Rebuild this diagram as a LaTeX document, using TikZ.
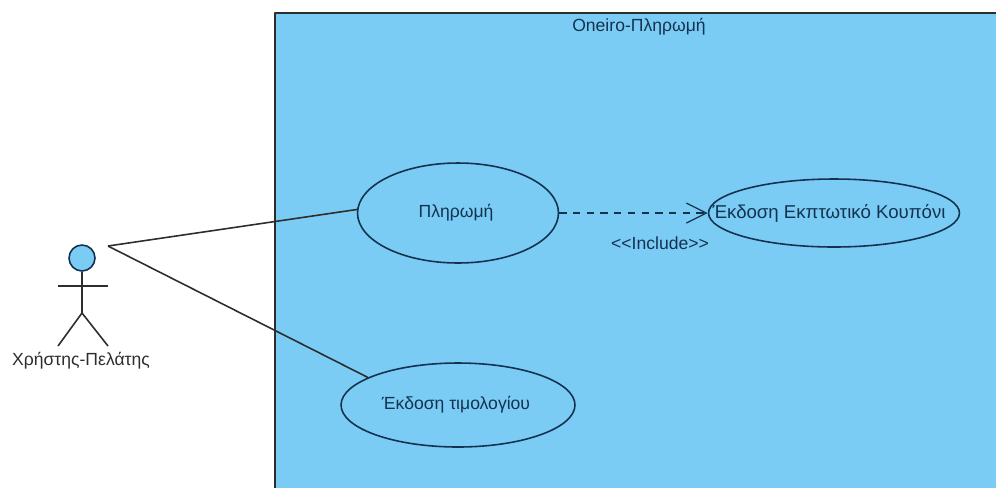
\documentclass[tikz,border=0pt]{standalone}
\usepackage{fontspec}
\setmainfont{Liberation Sans}
\usetikzlibrary{shapes.geometric, arrows.meta}
\definecolor{sysblue}{RGB}{122,204,245}
\definecolor{edgedark}{RGB}{20,50,80}
\definecolor{linegray}{RGB}{45,45,45}
\tikzset{>={Straight Barb[length=4mm,width=4mm]}}
\tikzset{usecase/.style={draw=edgedark, ellipse, line width=0.9pt, inner sep=0pt, anchor=center}}
\tikzset{caption/.style={text=edgedark, font=\fontsize{10}{12}\selectfont, inner sep=0pt, anchor=center}}
\tikzset{stick/.style={linegray, line width=0.9pt}}

\begin{document}
\begin{tikzpicture}[line join = round, x=0.02cm, y=-0.02cm]
\useasboundingbox (0,0) rectangle (996,488);

\fill[sysblue] (275,13) rectangle (996,488);
\draw[stick] (275,488) -- (275,13) -- (996,13);
\node[caption] (title) at (639,27) {Oneiro-Πληρωμή};

\node[usecase, minimum width=4.02cm, minimum height=2cm] (pay) at (458,213) {};
\node[caption] (paytext) at (456,213) {Πληρωμή};
\node[usecase, minimum width=5.02cm, minimum height=1.36cm] (coupon) at (834,213) {};
\node[caption, font=\fontsize{10.6}{12}\selectfont] (coupontext) at (829,213) {Έκδοση Εκπτωτικό Κουπόνι};
\node[usecase, minimum width=4.68cm, minimum height=1.68cm] (invoice) at (458,405) {};
\node[caption] (invoicetext) at (456,405) {Έκδοση τιμολογίου};

\draw[->, edgedark, line width=0.7pt, dash pattern=on 4.2pt off 3.6pt] (pay.east) -- (coupon.west);
\node[caption] (include) at (660,243) {<{}<Include>{}>};

% actor
\node[draw=edgedark, fill=sysblue, circle, line width=0.9pt, minimum size=0.52cm, inner sep=0pt] (head) at (82,258) {};
\coordinate (hip) at (82,313);
\draw[stick] (head) -- (hip);
\draw[stick] (58,286) -- (108,286);
\draw[stick] (58,346) -- (hip) -- (108,346);
\node[caption, text=linegray] (actor) at (81,361) {Χρήστης-Πελάτης};

\coordinate (hand) at (108,246);
\draw[stick] (hand) -- (pay.178);
\draw[stick] (hand) -- (invoice.163);

\end{tikzpicture}
\end{document}
